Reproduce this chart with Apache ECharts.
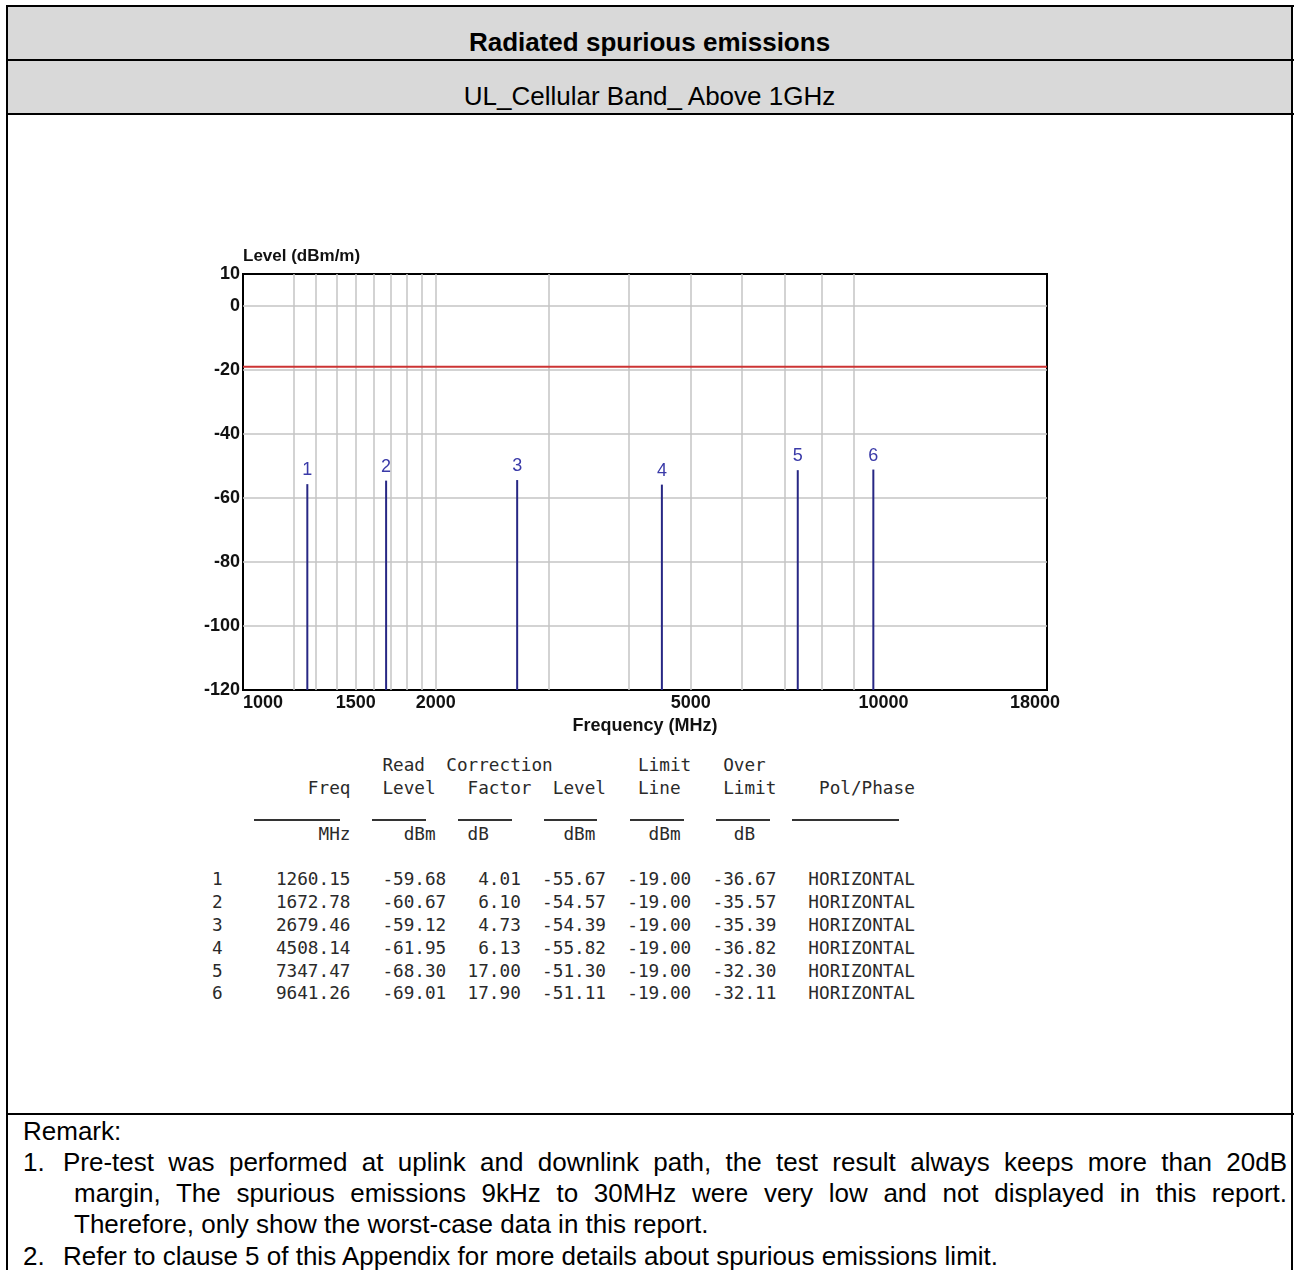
<!DOCTYPE html>
<html>
<head>
<meta charset="utf-8">
<title>Radiated spurious emissions</title>
<script src="https://cdn.jsdelivr.net/npm/echarts@6.0.0/dist/echarts.min.js"></script>
<style>
  html, body { margin: 0; padding: 0; background: #fff; }
  body { width: 1295px; height: 1270px; position: relative; overflow: hidden;
         font-family: "Liberation Sans", Arial, sans-serif; color: #000; }
  .hline { position: absolute; left: 6px; width: 1288px; height: 2px; background: #000; }
  .vline { position: absolute; top: 5px; width: 2px; height: 1270px; background: #000; }
  .cell { position: absolute; left: 8px; width: 1283px; background: #d9d9d9; }
  .head { position: absolute; left: 8px; width: 1283px; text-align: center;
          font-size: 26px; line-height: 30px; white-space: nowrap; }
  #chart { position: absolute; left: 0; top: 120px; width: 1295px; height: 630px; }
  #table { position: absolute; left: 212px; top: 754px; margin: 0;
           font-family: "DejaVu Sans Mono", monospace; font-size: 17.7px;
           line-height: 22.85px; color: #2a2a2a; white-space: pre; }
  .ul { position: absolute; top: 819px; height: 1.5px; background: #333; }
  .rm { position: absolute; font-size: 26px; line-height: 30px; white-space: nowrap; }
  .just { white-space: normal; text-align: justify; text-align-last: justify; }
</style>
</head>
<body>

<!-- frame of the report table -->
<div class="cell" style="top:7px;height:52px;"></div>
<div class="cell" style="top:61px;height:52px;"></div>
<div class="hline" style="top:5px;"></div>
<div class="hline" style="top:59px;"></div>
<div class="hline" style="top:113px;"></div>
<div class="hline" style="top:1113px;"></div>
<div class="vline" style="left:6px;"></div>
<div class="vline" style="left:1291px;"></div>

<div class="head" id="title" style="top:27px;font-weight:bold;"></div>
<div class="head" id="subtitle" style="top:81px;"></div>

<div id="chart"></div>
<pre id="table"></pre>
<div id="underlines"></div>
<div id="remarks"></div>

<script>
const titleText = 'Radiated spurious emissions';
const subtitleText = 'UL_Cellular Band_ Above 1GHz';

// measured peaks (table below the plot)
const markerNo = [1, 2, 3, 4, 5, 6];
const freqMHz = [1260.15, 1672.78, 2679.46, 4508.14, 7347.47, 9641.26];
const readLevel = [-59.68, -60.67, -59.12, -61.95, -68.30, -69.01];
const corrFactor = [4.01, 6.10, 4.73, 6.13, 17.00, 17.90];
const levelDbm = [-55.67, -54.57, -54.39, -55.82, -51.30, -51.11];
const limitLine = [-19.00, -19.00, -19.00, -19.00, -19.00, -19.00];
const overLimit = [-36.67, -35.57, -35.39, -36.82, -32.30, -32.11];
const polPhase = ['HORIZONTAL', 'HORIZONTAL', 'HORIZONTAL', 'HORIZONTAL', 'HORIZONTAL', 'HORIZONTAL'];

// axes
const xMin = 1000, xMax = 18000;
const xTickLabels = [1000, 1500, 2000, 5000, 10000, 18000];
const xGridValues = [1100, 1200, 1300, 1400, 1500, 1600, 1700, 1800, 1900, 2000,
  3000, 4000, 5000, 6000, 7000, 8000, 9000, 10000];
const yMin = -120, yMax = 10, yStep = 20;

const remarkTitle = 'Remark:';
const remarkLines = [
  'Pre-test was performed at uplink and downlink path, the test result always keeps more than 20dB',
  'margin, The spurious emissions 9kHz to 30MHz were very low and not displayed in this report.',
  'Therefore, only show the worst-case data in this report.',
  'Refer to clause 5 of this Appendix for more details about spurious emissions limit.'
];

const fontSans = '"Liberation Sans", Arial, sans-serif';

document.getElementById('title').textContent = titleText;
document.getElementById('subtitle').textContent = subtitleText;

// ---------- chart ----------
const chartInstance = echarts.init(document.getElementById('chart'));

const peakData = freqMHz.map((f, i) => [f, levelDbm[i], markerNo[i]]);

const option = {
  animation: false,
  backgroundColor: 'transparent',
  grid: {
    left: 243, top: 154, width: 804, height: 416,
    show: true, backgroundColor: '#fff', borderColor: '#000', borderWidth: 2,
    containLabel: false, outerBoundsMode: 'none'
  },
  xAxis: {
    type: 'log',
    logBase: 10,
    min: xMin,
    max: xMax,
    name: 'Frequency (MHz)',
    nameLocation: 'middle',
    nameGap: 27,
    nameTextStyle: {fontFamily: fontSans, fontWeight: 'bold', fontSize: 18, color: '#111'},
    axisLine: {show: false},
    axisTick: {show: false, customValues: xGridValues},
    minorTick: {show: false},
    axisLabel: {
      customValues: xTickLabels,
      margin: 4,
      alignMinLabel: 'left',
      formatter: function (v) {
        return v === xMax ? '{last|' + v + '}' : '{n|' + v + '}';
      },
      rich: {
        n: {fontFamily: fontSans, fontWeight: 'bold', fontSize: 18, color: '#111'},
        last: {fontFamily: fontSans, fontWeight: 'bold', fontSize: 18, color: '#111', padding: [0, 24, 0, 0]}
      }
    },
    splitLine: {show: true, showMinLine: false, showMaxLine: false, lineStyle: {color: '#c4c4c4', width: 1.5}}
  },
  yAxis: {
    type: 'value',
    min: yMin,
    max: yMax,
    interval: yStep,
    name: 'Level (dBm/m)',
    nameLocation: 'end',
    nameGap: 2,
    nameTextStyle: {fontFamily: fontSans, fontWeight: 'bold', fontSize: 17, color: '#111', align: 'left', verticalAlign: 'bottom'},
    axisLine: {show: false},
    axisTick: {show: false},
    axisLabel: {margin: 3, fontFamily: fontSans, fontWeight: 'bold', fontSize: 18, color: '#111'},
    splitLine: {show: true, showMinLine: false, showMaxLine: false, lineStyle: {color: '#c4c4c4', width: 1.5}}
  },
  series: [
    {
      name: 'Limit',
      type: 'line',
      data: [[xMin, limitLine[0]], [xMax, limitLine[0]]],
      showSymbol: false,
      silent: true,
      lineStyle: {color: '#cc3333', width: 2},
      z: 3
    },
    {
      name: 'Peaks',
      type: 'custom',
      data: peakData,
      silent: true,
      z: 4,
      renderItem: function (params, api) {
        const top = api.coord([api.value(0), api.value(1)]);
        const base = api.coord([api.value(0), yMin]);
        return {
          type: 'group',
          children: [
            {
              type: 'line',
              shape: {x1: base[0], y1: base[1], x2: top[0], y2: top[1]},
              style: {stroke: '#272784', lineWidth: 2}
            },
            {
              type: 'text',
              style: {
                text: String(api.value(2)),
                x: top[0], y: top[1] - 5,
                align: 'center', verticalAlign: 'bottom',
                fill: '#3a3aa8', font: '18px ' + fontSans
              }
            }
          ]
        };
      }
    }
  ]
};
chartInstance.setOption(option);

// ---------- data table ----------
function putLeft(s, col, t) { return s.padEnd(col) + t; }
function putRight(s, end, t) { return s.padEnd(end - t.length) + t; }

let lines = [];
let h1 = putLeft('', 16, 'Read');
h1 = putLeft(h1, 22, 'Correction');
h1 = putLeft(h1, 40, 'Limit');
h1 = putLeft(h1, 48, 'Over');
let h2 = putRight('', 13, 'Freq');
h2 = putLeft(h2, 16, 'Level');
h2 = putLeft(h2, 24, 'Factor');
h2 = putLeft(h2, 32, 'Level');
h2 = putLeft(h2, 40, 'Line');
h2 = putLeft(h2, 48, 'Limit');
h2 = putLeft(h2, 57, 'Pol/Phase');
let u = putRight('', 13, 'MHz');
u = putRight(u, 21, 'dBm');
u = putLeft(u, 24, 'dB');
u = putRight(u, 36, 'dBm');
u = putRight(u, 44, 'dBm');
u = putLeft(u, 49, 'dB');
lines.push(h1, h2, '', u, '');
for (let i = 0; i < markerNo.length; i++) {
  let s = String(markerNo[i]);
  s = putRight(s, 13, freqMHz[i].toFixed(2));
  s = putRight(s, 22, readLevel[i].toFixed(2));
  s = putRight(s, 29, corrFactor[i].toFixed(2));
  s = putRight(s, 37, levelDbm[i].toFixed(2));
  s = putRight(s, 45, limitLine[i].toFixed(2));
  s = putRight(s, 53, overLimit[i].toFixed(2));
  s = putLeft(s, 56, polPhase[i]);
  lines.push(s);
}
document.getElementById('table').textContent = lines.join('\n');

// column rules under the headers
const ruleSpans = [[254, 340], [372, 426], [458, 512], [544, 597], [630, 684], [716, 770], [792, 899]];
let ulHtml = '';
ruleSpans.forEach(r => {
  ulHtml += '<div class="ul" style="left:' + r[0] + 'px;width:' + (r[1] - r[0]) + 'px;"></div>';
});
document.getElementById('underlines').innerHTML = ulHtml;

// ---------- remarks ----------
const rm = document.getElementById('remarks');
function addText(cls, left, top, width, text) {
  const d = document.createElement('div');
  d.className = cls;
  d.style.left = left + 'px';
  d.style.top = top + 'px';
  if (width) d.style.width = width + 'px';
  d.textContent = text;
  rm.appendChild(d);
}
addText('rm', 23, 1116, 0, remarkTitle);
addText('rm', 23, 1147, 0, '1.');
addText('rm just', 63, 1147, 1224, remarkLines[0]);
addText('rm just', 74, 1178, 1213, remarkLines[1]);
addText('rm', 74, 1209, 0, remarkLines[2]);
addText('rm', 23, 1241, 0, '2.');
addText('rm', 63, 1241, 0, remarkLines[3]);
</script>
</body>
</html>
